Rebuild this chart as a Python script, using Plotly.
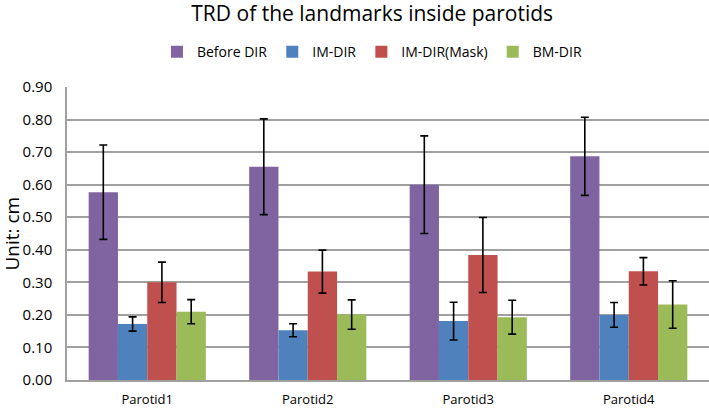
import plotly.graph_objects as go

categories = ["Parotid1", "Parotid2", "Parotid3", "Parotid4"]
series_names = ["Before DIR", "IM-DIR", "IM-DIR(Mask)", "BM-DIR"]
before_dir = [0.577, 0.655, 0.600, 0.687]
before_err = [0.145, 0.147, 0.150, 0.120]
im_dir = [0.172, 0.153, 0.181, 0.200]
im_err = [0.022, 0.020, 0.058, 0.038]
im_mask = [0.300, 0.333, 0.384, 0.334]
im_mask_err = [0.062, 0.066, 0.115, 0.042]
bm_dir = [0.210, 0.201, 0.193, 0.232]
bm_err = [0.037, 0.045, 0.052, 0.073]
colors = ["#8064A2", "#4F81BD", "#C0504D", "#9BBB59"]
y_ticks = [0.0, 0.1, 0.2, 0.3, 0.4, 0.5, 0.6, 0.7, 0.8, 0.9]
y_title = "Unit: cm"

values = [before_dir, im_dir, im_mask, bm_dir]
errors = [before_err, im_err, im_mask_err, bm_err]

font = "Open Sans"
fig = go.Figure()
for name, vals, errs, col in zip(series_names, values, errors, colors):
    fig.add_trace(go.Bar(
        x=categories, y=vals, name=name,
        marker=dict(color=col, line=dict(width=0)),
        error_y=dict(type="data", array=errs, visible=True,
                     color="black", thickness=1.6, width=4),
    ))

fig.update_layout(
    width=709, height=408,
    margin=dict(l=67, r=0, t=87, b=28, autoexpand=False),
    paper_bgcolor="white", plot_bgcolor="white",
    barmode="group", bargap=0.27, bargroupgap=0,
    font=dict(family=font, color="black"),
    title=dict(text="TRD of the landmarks inside parotids",
               x=0.525, xanchor="center", y=0.966, yanchor="middle",
               font=dict(size=21, family=font, color="black")),
    legend=dict(orientation="h", x=0.475, xanchor="center",
                yref="container", y=0.872, yanchor="middle",
                font=dict(size=14, family=font),
                itemwidth=30, traceorder="normal"),
    showlegend=True,
    annotations=[dict(text=y_title, xref="paper", yref="paper",
                      x=0, y=0.5, xanchor="center", yanchor="middle",
                      xshift=-56, textangle=-90, showarrow=False,
                      font=dict(size=19, family=font, color="black"))],
)
fig.update_xaxes(showline=True, linecolor="#A0A0A0", linewidth=1.5,
                 showgrid=False, ticks="", ticklabelstandoff=7,
                 automargin=False,
                 tickfont=dict(size=13, family=font))
fig.update_yaxes(range=[0, 0.9], tickvals=y_ticks,
                 ticktext=[f"{v:.2f}" for v in y_ticks],
                 showline=True, linecolor="#A0A0A0", linewidth=1.5,
                 showgrid=True, gridcolor="#A0A0A0", gridwidth=1.5,
                 zeroline=False, ticks="outside", ticklen=10,
                 tickcolor="rgba(0,0,0,0)",
                 automargin=False,
                 tickfont=dict(size=15, family=font))
fig.write_html("out.html", config={"displayModeBar": False},
               post_script="document.body.style.margin='0';document.body.style.padding='0';")
